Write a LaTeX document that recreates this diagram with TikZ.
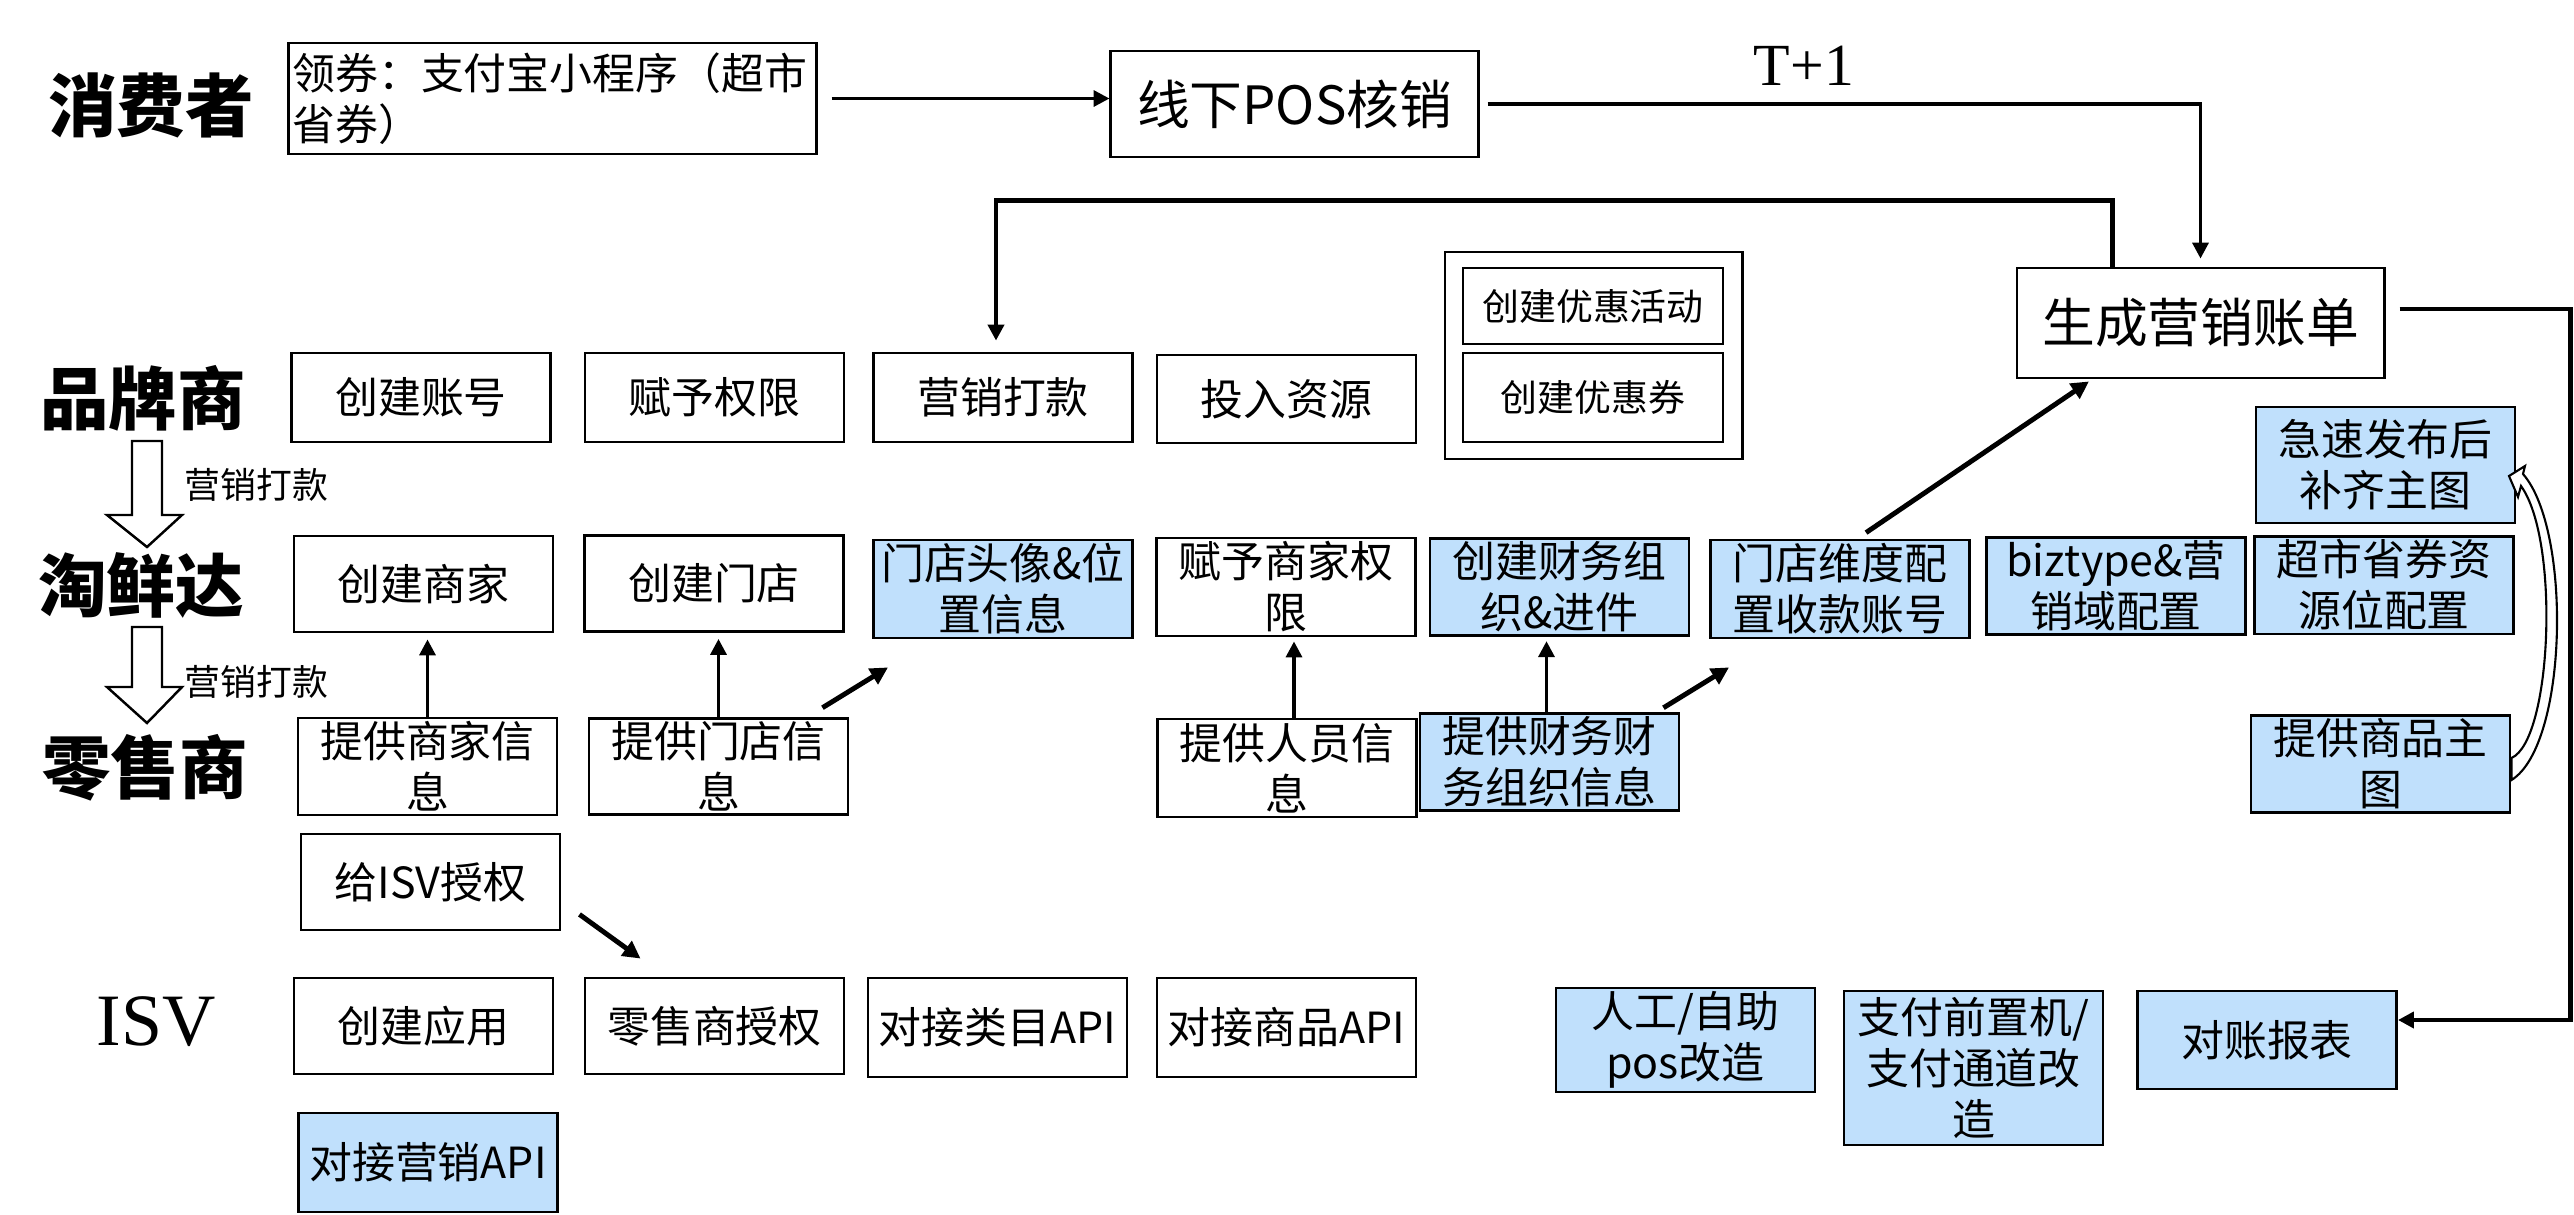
\documentclass[tikz,border=0pt]{standalone}
\usepackage{fontspec}
\setmainfont{Noto Sans CJK SC}
\newfontfamily\serifl{Liberation Serif}
\usetikzlibrary{arrows.meta}
\definecolor{lblue}{RGB}{192,224,252}
\begin{document}
\begin{tikzpicture}[x=0.01cm,y=-0.01cm,
  box/.style={draw, line width=0.8pt, inner sep=1pt, align=center, minimum width=2.59cm, minimum height=0.96cm, font=\fontsize{12.2}{14.5}\selectfont},
  bbox/.style={box, fill=lblue},
  lane/.style={font=\fontsize{19.5}{22}\selectfont\bfseries, inner sep=0},
  arr/.style={line width=1pt, -{Triangle[length=4.5pt,width=4.5pt]}},
  darr/.style={line width=1.4pt, -{Triangle[length=5pt,width=5pt]}},
  big/.style={box, font=\fontsize{15}{18}\selectfont},
  small/.style={box, font=\fontsize{10.5}{12}\selectfont},
  note/.style={font=\fontsize{10.2}{12}\selectfont, inner sep=0},
  hollow/.style={draw, line width=0.7pt, fill=white}
]
\useasboundingbox (0,0) rectangle (2574,1214);

% lane labels
\node[lane] (cons) at (151,105) {消费者};
\node[lane] (brand) at (143,398) {品牌商};
\node[lane] (txd) at (141,585) {淘鲜达};
\node[lane] (retail) at (145,768) {零售商};
\node[font=\serifl\fontsize{21}{24}\selectfont, inner sep=0] (isv) at (156,1022) {ISV};

% block arrows between lanes
\draw[hollow] (132,441) -- (162,441) -- (162,515) -- (182,515) -- (147,547) -- (107,515) -- (132,515) -- cycle;
\draw[hollow] (132,627) -- (162,627) -- (162,687) -- (182,687) -- (147,723) -- (107,687) -- (132,687) -- cycle;
\node[note, anchor=west] (n1) at (184,485) {营销打款};
\node[note, anchor=west] (n2) at (184,682) {营销打款};

% consumer row
\node[box, align=left, text width=5.2cm, minimum width=5.25cm, minimum height=1.11cm] (lq) at (552.5,98.5) {领券：支付宝小程序（超市\\省券）};
\node[big, minimum width=3.67cm, minimum height=1.06cm] (pos) at (1294.5,104) {线下POS核销};
\node[big, minimum width=3.67cm, minimum height=1.10cm] (bill) at (2200.5,323) {生成营销账单};
\node[font=\serifl\fontsize{17}{20}\selectfont, inner sep=0] (tp) at (1804,66) {T+1};

% brand row
\node[box, minimum height=0.89cm] (cjzh) at (421,397.5) {创建账号};
\node[box, minimum height=0.89cm] (fyqx) at (714.5,397.5) {赋予权限};
\node[box, minimum height=0.89cm] (yxdk) at (1003,397.5) {营销打款};
\node[box, minimum height=0.88cm] (trzy) at (1286.5,399) {投入资源};
\node[draw, line width=0.8pt, minimum width=2.97cm, minimum height=2.07cm, inner sep=0] (grp) at (1593.5,355.5) {};
\node[small, minimum width=2.6cm, minimum height=0.76cm] (yhhd) at (1593,306) {创建优惠活动};
\node[small, minimum width=2.6cm, minimum height=0.89cm] (yhq) at (1593,397.5) {创建优惠券};

% taoxianda row
\node[box] (cjsj) at (423.5,584) {创建商家};
\node[box] (cjmd) at (714,583.5) {创建门店};
\node[bbox] (mdtx) at (1003,589) {门店头像\&位\\置信息};
\node[box, minimum height=0.98cm] (fysj) at (1286,587) {赋予商家权\\限};
\node[bbox, minimum height=0.92cm] (cjcw) at (1559.5,587) {创建财务组\\织\&进件};
\node[bbox] (mdwd) at (1840,589) {门店维度配\\置收款账号};
\node[bbox] (biz) at (2116,586) {biztype\&营\\销域配置};
\node[bbox, minimum height=0.92cm] (csq) at (2384,585) {超市省券资\\源位配置};
\node[bbox, minimum height=1.16cm] (jsfb) at (2385.5,465) {急速发布后\\补齐主图};

% retailer row
\node[box, minimum height=0.95cm] (tsj) at (427.5,766.5) {提供商家信\\息};
\node[box, minimum height=0.95cm] (tmd) at (718.5,766.5) {提供门店信\\息};
\node[box, minimum height=0.98cm] (try) at (1287,768) {提供人员信\\息};
\node[bbox] (tcw) at (1549.5,762) {提供财务财\\务组织信息};
\node[bbox] (tzt) at (2380.5,764) {提供商品主\\图};
\node[box] (gisv) at (430.5,882) {给ISV授权};

% ISV row
\node[box] (cjyy) at (423.5,1026) {创建应用};
\node[box] (lssq) at (714.5,1026) {零售商授权};
\node[box, minimum height=0.99cm] (lmapi) at (997.5,1027.5) {对接类目API};
\node[box, minimum height=0.99cm] (spapi) at (1286.5,1027.5) {对接商品API};
\node[bbox, minimum height=0.99cm] (yxapi) at (428,1162.5) {对接营销API};
\node[bbox, minimum height=0.98cm] (rgzz) at (1685.5,1040) {人工/自助\\pos改造};
\node[bbox, minimum height=1.54cm] (zfqz) at (1973.5,1068) {支付前置机/\\支付通道改\\造};
\node[bbox, minimum height=0.98cm] (dzbb) at (2267,1040) {对账报表};

% connectors
\draw[arr] ([xshift=0.14cm]lq.east) -- (lq.east -| pos.west);
\draw[arr] ([xshift=0.08cm]pos.east) -| ([yshift=0.08cm]bill.north);
\draw[arr, line width=1.2pt] ([xshift=0.97cm]bill.north west) -- ++(0,-66) -| ([xshift=-0.07cm,yshift=0.11cm]yxdk.north);
\draw[arr, line width=1.3pt] ([xshift=0.14cm,yshift=0.14cm]bill.east) -- ++(171,0) |- ([yshift=0.2cm]dzbb.east);
\draw[darr] ([xshift=0.26cm,yshift=0.06cm]mdwd.north) -- ([xshift=-1.115cm,yshift=-0.02cm]bill.south);

\draw[arr] (tsj.north) -- ([yshift=-0.06cm]tsj.north |- cjsj.south);
\draw[arr] (tmd.north) -- ([yshift=-0.06cm]tmd.north |- cjmd.south);
\draw[darr] ([xshift=-0.27cm,yshift=0.09cm]tmd.north east) -- ([xshift=0.16cm,yshift=-0.28cm]mdtx.south west);
\draw[arr] ([xshift=0.07cm]try.north) -- ([xshift=0.07cm,yshift=-0.04cm]try.north |- fysj.south);
\draw[arr] ([xshift=-0.03cm]tcw.north) -- ([xshift=-0.03cm,yshift=-0.04cm]tcw.north |- cjcw.south);
\draw[darr] ([xshift=-0.17cm,yshift=0.04cm]tcw.north east) -- ([xshift=0.2cm,yshift=-0.28cm]mdwd.south west);
\draw[darr] ([xshift=0.18cm,yshift=0.17cm]gisv.south east) -- ([xshift=0.57cm,yshift=0.18cm]lssq.north west);

% curved arrow from product image to quick publish
\draw[line width=0.6pt, fill=white] ([yshift=0.06cm]tzt.east) .. controls (2552,740) and (2560,540) .. (2521,486) -- (2518,497) -- (2509,476) -- (2525,466) -- (2523,474) .. controls (2572,530) and (2568,745) .. ([yshift=-0.16cm]tzt.east) -- cycle;
\end{tikzpicture}
\end{document}
